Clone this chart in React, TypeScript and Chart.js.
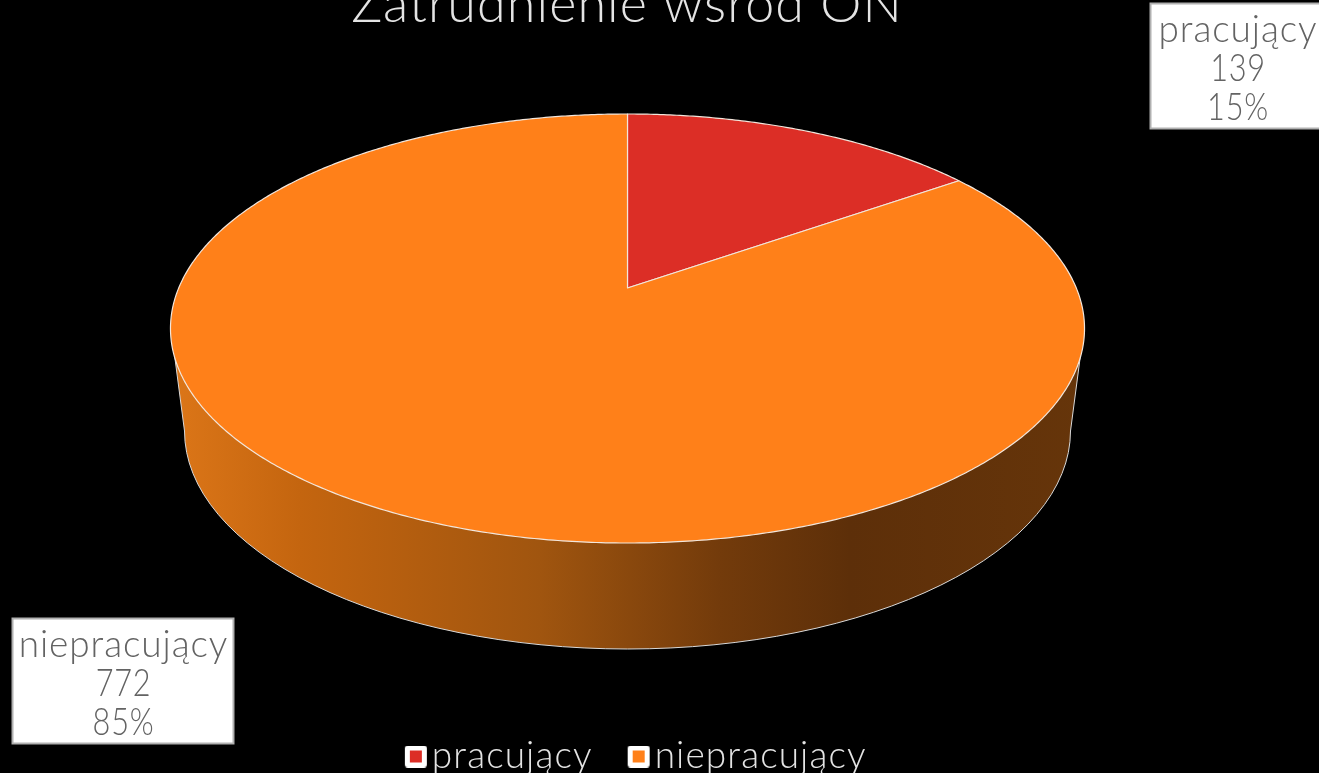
import React, { useEffect, useRef } from "react";
import { Chart, registerables } from "chart.js";

Chart.register(...registerables);

const categories = ["pracujący", "niepracujący"];
const values = [139, 772];
const sliceColors = ["#DC2E26", "#FF8019"];
const chartTitle = "Zatrudnienie wśród ON";

const FONT = "Lato, 'Open Sans', sans-serif";
const SPACING = "1.1px";
const LABEL_SPACING = "0.9px";

// Perspective of the top face: maps the unit circle on to the visible ellipse.
const PERSP = { cx: 627.5, apexY: 288, a: 448.8, b: 152.5, k: -0.1888 };
const BOTTOM = { cx: 627.5, cy: 431, rx: 443, ry: 218 };
const WALL_TOP = { y: 355, dx: 453 };
const wallStops: [number, string][] = [
  [172, "#DC7618"],
  [300, "#C4650F"],
  [540, "#A0550F"],
  [720, "#733B0B"],
  [850, "#5D2F09"],
  [1085, "#66350A"],
];
const labelBoxes = [
  { x: 1150.5, y: 3.5, w: 172, h: 125, cx: 1238 },
  { x: 12.5, y: 618.5, w: 221, h: 125, cx: 123.5 },
];

function project(t: number) {
  const x = Math.sin(t);
  const y = -Math.cos(t);
  const w = 1 + PERSP.k * y;
  return { x: PERSP.cx + (PERSP.a * x) / w, y: (PERSP.b * y + PERSP.apexY) / w };
}

const pie3d = {
  id: "pie3d",
  beforeLayout(chart: any) {
    (chart.ctx as any).letterSpacing = SPACING;
  },
  afterLayout(chart: any) {
    chart.legend.right += 25;
  },
  beforeDraw(chart: any) {
    const ctx = chart.ctx;
    (ctx as any).letterSpacing = SPACING;
    ctx.save();
    ctx.fillStyle = "#000";
    ctx.fillRect(0, 0, chart.width, chart.height);
    ctx.restore();
  },
  beforeDatasetDraw(chart: any) {
    const ctx: CanvasRenderingContext2D = chart.ctx;
    const arcs = chart.getDatasetMeta(0).data;
    ctx.save();
    // wall
    const grad = ctx.createLinearGradient(172, 0, 1085, 0);
    for (const [x, c] of wallStops) grad.addColorStop((x - 172) / (1085 - 172), c);
    ctx.beginPath();
    ctx.moveTo(BOTTOM.cx - WALL_TOP.dx, WALL_TOP.y);
    ctx.lineTo(BOTTOM.cx - BOTTOM.rx, BOTTOM.cy);
    ctx.ellipse(BOTTOM.cx, BOTTOM.cy, BOTTOM.rx, BOTTOM.ry, 0, Math.PI, 0, true);
    ctx.lineTo(BOTTOM.cx + WALL_TOP.dx, WALL_TOP.y);
    ctx.closePath();
    ctx.fillStyle = grad;
    ctx.fill();
    ctx.strokeStyle = "#D9D9D9";
    ctx.lineWidth = 1;
    ctx.stroke();
    // top face slices, angles from the library's arc elements
    arcs.forEach((arc: any, i: number) => {
      const s = arc.startAngle + Math.PI / 2;
      const e = arc.endAngle + Math.PI / 2;
      ctx.beginPath();
      ctx.moveTo(PERSP.cx, PERSP.apexY);
      const n = Math.ceil(((e - s) / (2 * Math.PI)) * 720);
      for (let j = 0; j <= n; j++) {
        const p = project(s + ((e - s) * j) / n);
        ctx.lineTo(p.x, p.y);
      }
      ctx.closePath();
      ctx.fillStyle = sliceColors[i];
      ctx.fill();
      ctx.strokeStyle = "#F2E6DC";
      ctx.lineWidth = 1.2;
      ctx.lineJoin = "round";
      ctx.stroke();
    });
    ctx.restore();
    return false;
  },
  afterDraw(chart: any) {
    const ctx: CanvasRenderingContext2D = chart.ctx;
    const total = values.reduce((a, b) => a + b, 0);
    ctx.save();
    (ctx as any).letterSpacing = LABEL_SPACING;
    labelBoxes.forEach((b, i) => {
      ctx.fillStyle = "#FFFFFF";
      ctx.fillRect(b.x, b.y, b.w, b.h);
      ctx.strokeStyle = "#B0B0B0";
      ctx.lineWidth = 2;
      ctx.strokeRect(b.x, b.y, b.w, b.h);
      ctx.fillStyle = "#636363";
      ctx.font = `300 37px ${FONT}`;
      ctx.textAlign = "center";
      ctx.textBaseline = "alphabetic";
      const lines = [categories[i], String(values[i]), `${Math.round((values[i] / total) * 100)}%`];
      lines.forEach((l, j) => {
        const y = b.y + 38 + j * 39;
        if (j === 0) ctx.fillText(l, b.cx, y);
        else ctx.fillText(l, b.cx, y, ctx.measureText(l).width * 0.83);
      });
    });
    ctx.restore();
  },
};

function marker(color: string) {
  const c = document.createElement("canvas");
  c.width = 30;
  c.height = 22;
  const x = c.getContext("2d")!;
  x.fillStyle = "#FFFFFF";
  x.beginPath();
  x.roundRect(7, 0, 22, 22, 3);
  x.fill();
  x.fillStyle = color;
  x.fillRect(12, 5, 12, 12);
  return c;
}

export default function App() {
  const ref = useRef<HTMLCanvasElement>(null);
  useEffect(() => {
    const chart = new Chart(ref.current!, {
      type: "pie",
      data: {
        labels: categories,
        datasets: [{ data: values, backgroundColor: sliceColors, borderColor: "#FFFFFF", borderWidth: 1 }],
      },
      options: {
        responsive: false,
        animation: false,
        layout: { padding: { bottom: -12, right: 65 } },
        plugins: {
          title: {
            display: true,
            text: chartTitle,
            color: "#E4E4E4",
            font: { family: FONT, size: 52, weight: "300" },
            padding: { top: -26, bottom: 0 },
          },
          legend: {
            position: "bottom",
            labels: {
              color: "#E4E4E4",
              font: { family: FONT, size: 37, weight: "300" },
              usePointStyle: true,
              pointStyleWidth: 1,
              padding: 42.5,
              generateLabels() {
                return categories.map((t, i) => ({
                  text: t,
                  fontColor: "#E4E4E4",
                  pointStyle: marker(sliceColors[i]),
                  hidden: false,
                  index: i,
                  datasetIndex: 0,
                }));
              },
            },
          },
          tooltip: { enabled: false },
        },
      },
      plugins: [pie3d],
    } as any);
    return () => chart.destroy();
  }, []);
  return (
    <div style={{ position: "fixed", inset: 0, background: "#000", overflow: "hidden" }}>
      <canvas ref={ref} width={1319} height={773} style={{ display: "block" }} />
    </div>
  );
}
